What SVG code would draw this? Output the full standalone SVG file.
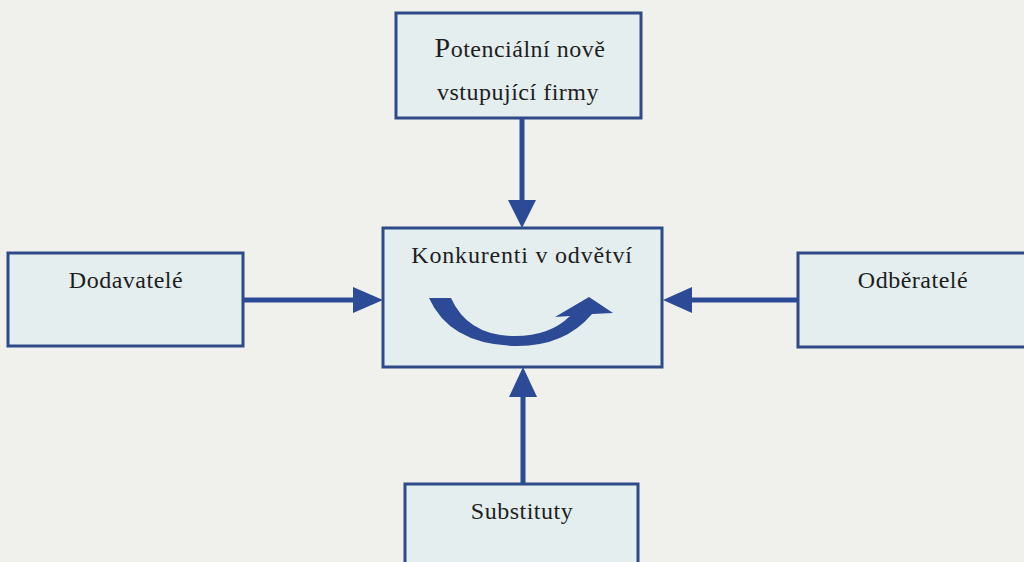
<svg xmlns="http://www.w3.org/2000/svg" width="1024" height="562" viewBox="0 0 1024 562">
<style>
.box{fill:#e4eeee;stroke:#2f4a88;stroke-width:3}
.t{font-family:"Liberation Serif","Times New Roman",serif;fill:#1e1e1e;text-anchor:middle;font-size:24px;letter-spacing:0.5px}
.ln{stroke:#2c4a95;stroke-width:5;fill:none}
.ah{fill:#2c4a95}
</style>
<rect width="1024" height="562" fill="#f0f1ec"/>
<g id="n-top">
<rect class="box" x="396" y="13" width="245" height="105"/>
<text class="t" x="520" y="57"><tspan font-size="28">P</tspan>otenciální nově</text>
<text class="t" x="518" y="100">vstupující firmy</text>
</g>
<g id="n-center">
<rect class="box" x="383" y="228" width="279" height="139"/>
<text class="t" x="522" y="263" style="letter-spacing:0.8px">Konkurenti v odvětví</text>
<path class="ah" d="M429,298 L451,298 Q468,336 515,336 Q550,336 570,316 L555,317 L589,297 L613,313 L592,314 Q565,346 517,346 Q450,345 429,298 Z"/>
</g>
<g id="n-left">
<rect class="box" x="8" y="253" width="235" height="93"/>
<text class="t" x="126" y="288">Dodavatelé</text>
</g>
<g id="n-right">
<rect class="box" x="798" y="253" width="240" height="94"/>
<text class="t" x="913" y="288">Odběratelé</text>
</g>
<g id="n-bottom">
<rect class="box" x="405" y="484" width="233" height="90"/>
<text class="t" x="522" y="519">Substituty</text>
</g>
<g id="connectors">
<line class="ln" x1="522" y1="118" x2="522" y2="202"/>
<polygon class="ah" points="508,200 536,200 522,228"/>
<line class="ln" x1="243" y1="300" x2="356" y2="300"/>
<polygon class="ah" points="353,287 353,313 383,300"/>
<line class="ln" x1="798" y1="300" x2="690" y2="300"/>
<polygon class="ah" points="692,287 692,313 663,300"/>
<line class="ln" x1="523" y1="484" x2="523" y2="394"/>
<polygon class="ah" points="509,397 537,397 523,367"/>
</g>
</svg>
